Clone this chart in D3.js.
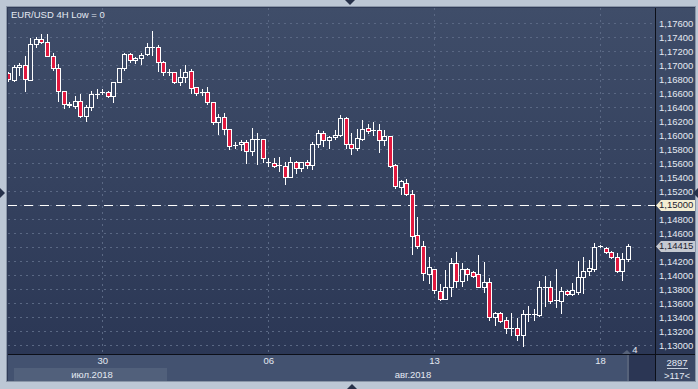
<!DOCTYPE html>
<html><head><meta charset="utf-8">
<script src="https://cdn.jsdelivr.net/npm/d3@7"></script>
<style>html,body{margin:0;padding:0;background:#bcc7d5;}svg{display:block;}</style>
</head><body><svg id="c" width="698" height="389"></svg>
<script>
// ---- data ----
const title = "EUR/USD 4H Low = 0";
const opens = [1.16882,1.16786,1.16968,1.16996,1.16786,1.17296,1.17368,1.17325,1.17133,1.16953,
1.16629,1.16433,1.16419,1.16486,1.16272,1.16396,1.16586,1.16610,1.16610,1.16558,
1.16753,1.16953,1.17158,1.17072,1.17096,1.17153,1.17262,1.17262,1.17048,1.16905,
1.16896,1.16762,1.16825,1.16915,1.16682,1.16619,1.16619,1.16468,1.16190,1.16253,
1.16082,1.15858,1.15868,1.15905,1.15776,1.15939,1.15939,1.15619,1.15605,1.15568,
1.15562,1.15405,1.15610,1.15525,1.15610,1.15572,1.15868,1.16025,1.15929,1.15968,
1.16000,1.16239,1.15868,1.15810,1.15939,1.16096,1.16072,1.16072,1.15929,1.15986,
1.15572,1.15262,1.15310,1.15153,1.14572,1.14419,1.14010,1.14082,1.13776,1.13658,
1.13825,1.14168,1.13919,1.14082,1.14039,1.14010,1.13833,1.13896,1.13405,1.13453,
1.13358,1.13248,1.13248,1.13143,1.13443,1.13443,1.13429,1.13825,1.13825,1.13643,
1.13633,1.13772,1.13725,1.13762,1.13968,1.14058,1.14082,1.14415,1.14382,1.14325,
1.14253,1.14062,1.14225];
const highs = [1.16900,1.17000,1.17033,1.17129,1.17382,1.17396,1.17443,1.17443,1.17168,1.17010,
1.16635,1.16476,1.16558,1.16586,1.16429,1.16629,1.16658,1.16653,1.16633,1.16762,
1.16958,1.17176,1.17176,1.17119,1.17176,1.17310,1.17486,1.17286,1.17058,1.16939,
1.16900,1.16939,1.17000,1.16939,1.16686,1.16653,1.16682,1.16472,1.16300,1.16319,
1.16086,1.15905,1.15929,1.15929,1.16096,1.16025,1.15943,1.15668,1.15668,1.15682,
1.15619,1.15690,1.15629,1.15615,1.15643,1.15896,1.16072,1.16058,1.15986,1.16072,
1.16286,1.16262,1.16025,1.16082,1.16215,1.16158,1.16182,1.16158,1.16072,1.15990,
1.15586,1.15358,1.15372,1.15215,1.14833,1.14486,1.14262,1.14086,1.13872,1.14072,
1.14239,1.14333,1.14168,1.14096,1.14062,1.14286,1.14190,1.13953,1.13476,1.13476,
1.13396,1.13453,1.13382,1.13500,1.13558,1.13510,1.13919,1.13990,1.13919,1.14082,
1.13833,1.13786,1.13890,1.14200,1.14262,1.14215,1.14453,1.14422,1.14396,1.14348,
1.14310,1.14310,1.14443];
const lows = [1.16776,1.16776,1.16858,1.16633,1.16786,1.17262,1.17310,1.17129,1.16929,1.16490,
1.16382,1.16396,1.16382,1.16262,1.16205,1.16358,1.16525,1.16586,1.16539,1.16476,
1.16750,1.16929,1.17048,1.17033,1.17010,1.17143,1.17143,1.16919,1.16858,1.16858,
1.16748,1.16715,1.16762,1.16605,1.16572,1.16572,1.16443,1.16158,1.16015,1.16015,
1.15800,1.15810,1.15786,1.15605,1.15715,1.15586,1.15619,1.15558,1.15539,1.15486,
1.15296,1.15396,1.15462,1.15486,1.15525,1.15510,1.15825,1.15848,1.15810,1.15939,
1.15986,1.15819,1.15725,1.15786,1.15929,1.16025,1.16000,1.15753,1.15858,1.15548,
1.15239,1.15153,1.15143,1.14300,1.14382,1.13929,1.13882,1.13739,1.13643,1.13653,
1.13700,1.13833,1.13843,1.13929,1.13976,1.13825,1.13762,1.13358,1.13286,1.13333,
1.13168,1.13143,1.13072,1.12986,1.13348,1.13358,1.13415,1.13558,1.13596,1.13539,
1.13462,1.13715,1.13715,1.13729,1.13739,1.14000,1.14062,1.14405,1.14310,1.14239,
1.14048,1.13929,1.14205];
const closes = [1.16796,1.16968,1.16996,1.16796,1.17296,1.17372,1.17325,1.17133,1.16953,1.16629,
1.16443,1.16443,1.16486,1.16272,1.16396,1.16582,1.16586,1.16610,1.16558,1.16753,
1.16953,1.17158,1.17072,1.17096,1.17143,1.17253,1.17262,1.17048,1.16905,1.16905,
1.16762,1.16825,1.16896,1.16676,1.16605,1.16619,1.16476,1.16182,1.16253,1.16082,
1.15848,1.15858,1.15905,1.15776,1.15939,1.15939,1.15676,1.15619,1.15562,1.15568,
1.15405,1.15610,1.15525,1.15610,1.15572,1.15868,1.16025,1.15929,1.15968,1.16000,
1.16239,1.15868,1.15810,1.15953,1.16082,1.16062,1.16072,1.15929,1.15986,1.15562,
1.15272,1.15343,1.15153,1.14562,1.14419,1.14025,1.14110,1.13782,1.13658,1.13833,
1.14168,1.13919,1.14082,1.14010,1.13990,1.13833,1.13896,1.13405,1.13453,1.13348,
1.13239,1.13248,1.13143,1.13439,1.13443,1.13443,1.13825,1.13825,1.13633,1.13643,
1.13772,1.13725,1.13786,1.13968,1.14058,1.14096,1.14396,1.14415,1.14325,1.14253,
1.14062,1.14225,1.14415];
const yTicks = [1.176,1.174,1.172,1.170,1.168,1.166,1.164,1.162,1.160,1.158,1.156,1.154,1.152,
1.148,1.146,1.142,1.140,1.138,1.136,1.134,1.132,1.130];
const levelLine = 1.15;
const lastPrice = 1.14415;
const dayTickBars = [17,47,77,107];
const dayTickLabels = ["30","06","13","18"];
const monthLabels = ["июл.2018","авг.2018"];
const barsCount = "2897";
const visibleBars = ">117<";
const shiftLabel = "4";

// ---- layout ----
const L=8, R=655, T=8, B=354;
const svg=d3.select("#c");
const FONT="'Liberation Sans', Arial, sans-serif";
const fmt=v=>d3.format(".5f")(v).replace(".",",");
const x=d3.scaleLinear().domain([-0.05,116.95]).range([L,R]);
const y=d3.scaleLinear().domain([1.130,1.176]).range([345,23]);

const defs=svg.append("defs");
const g=defs.append("linearGradient").attr("id","bg").attr("gradientUnits","userSpaceOnUse")
  .attr("x1",0).attr("y1",T).attr("x2",0).attr("y2",B);
g.append("stop").attr("offset","0").attr("stop-color","#3f4d69");
g.append("stop").attr("offset","1").attr("stop-color","#2b3755");
defs.append("clipPath").attr("id","clip").append("rect").attr("x",L).attr("y",T).attr("width",R-L).attr("height",B-T);

// frame
svg.append("rect").attr("width",698).attr("height",389).attr("fill","#bcc7d5");
svg.append("rect").attr("x",6.5).attr("y",6.5).attr("width",689).attr("height",375).attr("fill","#2f3b58").attr("stroke","#8a96a8");
svg.append("rect").attr("x",L).attr("y",T).attr("width",695-L).attr("height",B-T).attr("fill","url(#bg)");
// bottom band
svg.append("rect").attr("x",L).attr("y",355).attr("width",R-L).attr("height",26).attr("fill","#435270");
svg.append("rect").attr("x",14).attr("y",368).attr("width",153).attr("height",13).attr("fill","#51607b");
svg.append("rect").attr("x",627).attr("y",355).attr("width",28).attr("height",26).attr("fill","#2b3654");
svg.append("rect").attr("x",627).attr("y",355).attr("width",2).attr("height",26).attr("fill","#56627a");
svg.append("rect").attr("x",656).attr("y",355).attr("width",39).attr("height",26).attr("fill","#3a4865");

// grid
const grid=svg.append("g").attr("clip-path","url(#clip)");
grid.selectAll("line.h").data(yTicks.concat([1.150,1.144])).join("line")
  .attr("x1",L).attr("x2",R).attr("y1",d=>Math.round(y(d))+0.5).attr("y2",d=>Math.round(y(d))+0.5)
  .attr("stroke","#5a6884").attr("stroke-dasharray","2,4");
grid.selectAll("line.v").data(dayTickBars).join("line")
  .attr("x1",d=>Math.round(x(d))+0.5).attr("x2",d=>Math.round(x(d))+0.5).attr("y1",T).attr("y2",B)
  .attr("stroke","#5a6884").attr("stroke-dasharray","2,4");

// level line
grid.append("line").attr("x1",L).attr("x2",R).attr("y1",Math.round(y(levelLine))+0.5).attr("y2",Math.round(y(levelLine))+0.5)
  .attr("stroke","#ffffff").attr("stroke-dasharray","9,7");

// candles
const data=opens.map((o,i)=>({i,o,h:highs[i],l:lows[i],c:closes[i]}));
const cg=grid.append("g");
const cs=cg.selectAll("g").data(data).join("g");
cs.append("line")
  .attr("x1",d=>Math.round(x(d.i))+0.5).attr("x2",d=>Math.round(x(d.i))+0.5)
  .attr("y1",d=>Math.round(y(d.h))).attr("y2",d=>Math.round(y(d.l))+1)
  .attr("stroke","#ffffff");
cs.each(function(d){
  const sel=d3.select(this);
  const cx=Math.round(x(d.i));
  const yt=Math.round(y(Math.max(d.o,d.c))), yb=Math.round(y(Math.min(d.o,d.c)));
  if (yb-yt<1){
    sel.append("line").attr("x1",cx-2).attr("x2",cx+3).attr("y1",yt+0.5).attr("y2",yt+0.5).attr("stroke","#fff");
  } else {
    sel.append("rect").attr("x",cx-1.5).attr("y",yt+0.5).attr("width",4).attr("height",yb-yt)
      .attr("fill",d.c<d.o?"#e1193f":"url(#bg)").attr("stroke","#ffffff");
  }
});

// separators
svg.append("line").attr("x1",R+0.5).attr("x2",R+0.5).attr("y1",T).attr("y2",381).attr("stroke","#0c0f18");
svg.append("line").attr("x1",L).attr("x2",695).attr("y1",354.5).attr("y2",354.5).attr("stroke","#0c0f18");

// y axis
const yAxis=d3.axisRight(y).tickValues(yTicks).tickSize(0).tickPadding(0).tickFormat(fmt);
const ya=svg.append("g").attr("transform",`translate(659,0)`).call(yAxis);
ya.select(".domain").remove();
ya.selectAll("text").attr("fill","#e4e9f2").attr("font-family",FONT).attr("font-size","9.5px").attr("dy","0.35em");

function tag(v,fill,tc){
  const yy=Math.round(y(v));
  svg.append("path").attr("d",`M656,${yy+0.5} L661,${yy-5} L695,${yy-5} L695,${yy+6} L661,${yy+6} Z`).attr("fill",fill);
  svg.append("text").attr("x",659).attr("y",yy).attr("dy","0.35em").attr("fill",tc)
    .attr("font-family",FONT).attr("font-size","9.5px").text(fmt(v));
}
tag(levelLine,"#f4eed2","#1d2230");
tag(lastPrice,"#c5c9d1","#1d2230");

// x axis
const xAxis=d3.axisBottom(x).tickValues(dayTickBars).tickSize(0).tickPadding(0).tickFormat((d,i)=>dayTickLabels[i]);
const xa=svg.append("g").attr("transform","translate(0,357)").call(xAxis);
xa.select(".domain").remove();
xa.selectAll("text").attr("fill","#e4e9f2").attr("font-family",FONT).attr("font-size","9.5px");
svg.selectAll("text.m").data(monthLabels).join("text").attr("class","m")
  .attr("x",(d,i)=>i===0?92:413).attr("y",378).attr("text-anchor","middle")
  .attr("fill","#e4e9f2").attr("font-family",FONT).attr("font-size","9.5px").text(d=>d);

// right-bottom box
svg.append("text").attr("x",677).attr("y",366).attr("text-anchor","middle").attr("fill","#e4e9f2")
  .attr("font-family",FONT).attr("font-size","9.5px").text(barsCount);
svg.append("line").attr("x1",667).attr("x2",688).attr("y1",368.5).attr("y2",368.5).attr("stroke","#c8d0dc");
svg.append("text").attr("x",677).attr("y",379).attr("text-anchor","middle").attr("fill","#e4e9f2")
  .attr("font-family",FONT).attr("font-size","9.5px").text(visibleBars);
svg.append("text").attr("x",635).attr("y",353).attr("text-anchor","middle").attr("fill","#e4e9f2")
  .attr("font-family",FONT).attr("font-size","9.5px").text(shiftLabel);
svg.append("path").attr("d","M622,354 L627,350 L631,354 Z").attr("fill","#56627a");

// title
svg.append("text").attr("x",11).attr("y",18).attr("fill","#e4e9f2").attr("font-family",FONT).attr("font-size","9.5px").text(title);

// frame arrows
const arr="#26314a";
svg.append("path").attr("d","M345,0 L355,0 L350,5 Z").attr("fill",arr);
svg.append("path").attr("d","M347,389 L357,389 L352,384 Z").attr("fill",arr);
svg.append("path").attr("d","M0,188 L0,198 L5,193 Z").attr("fill",arr);
svg.append("path").attr("d","M698,188 L698,198 L693,193 Z").attr("fill",arr);
</script></body></html>
